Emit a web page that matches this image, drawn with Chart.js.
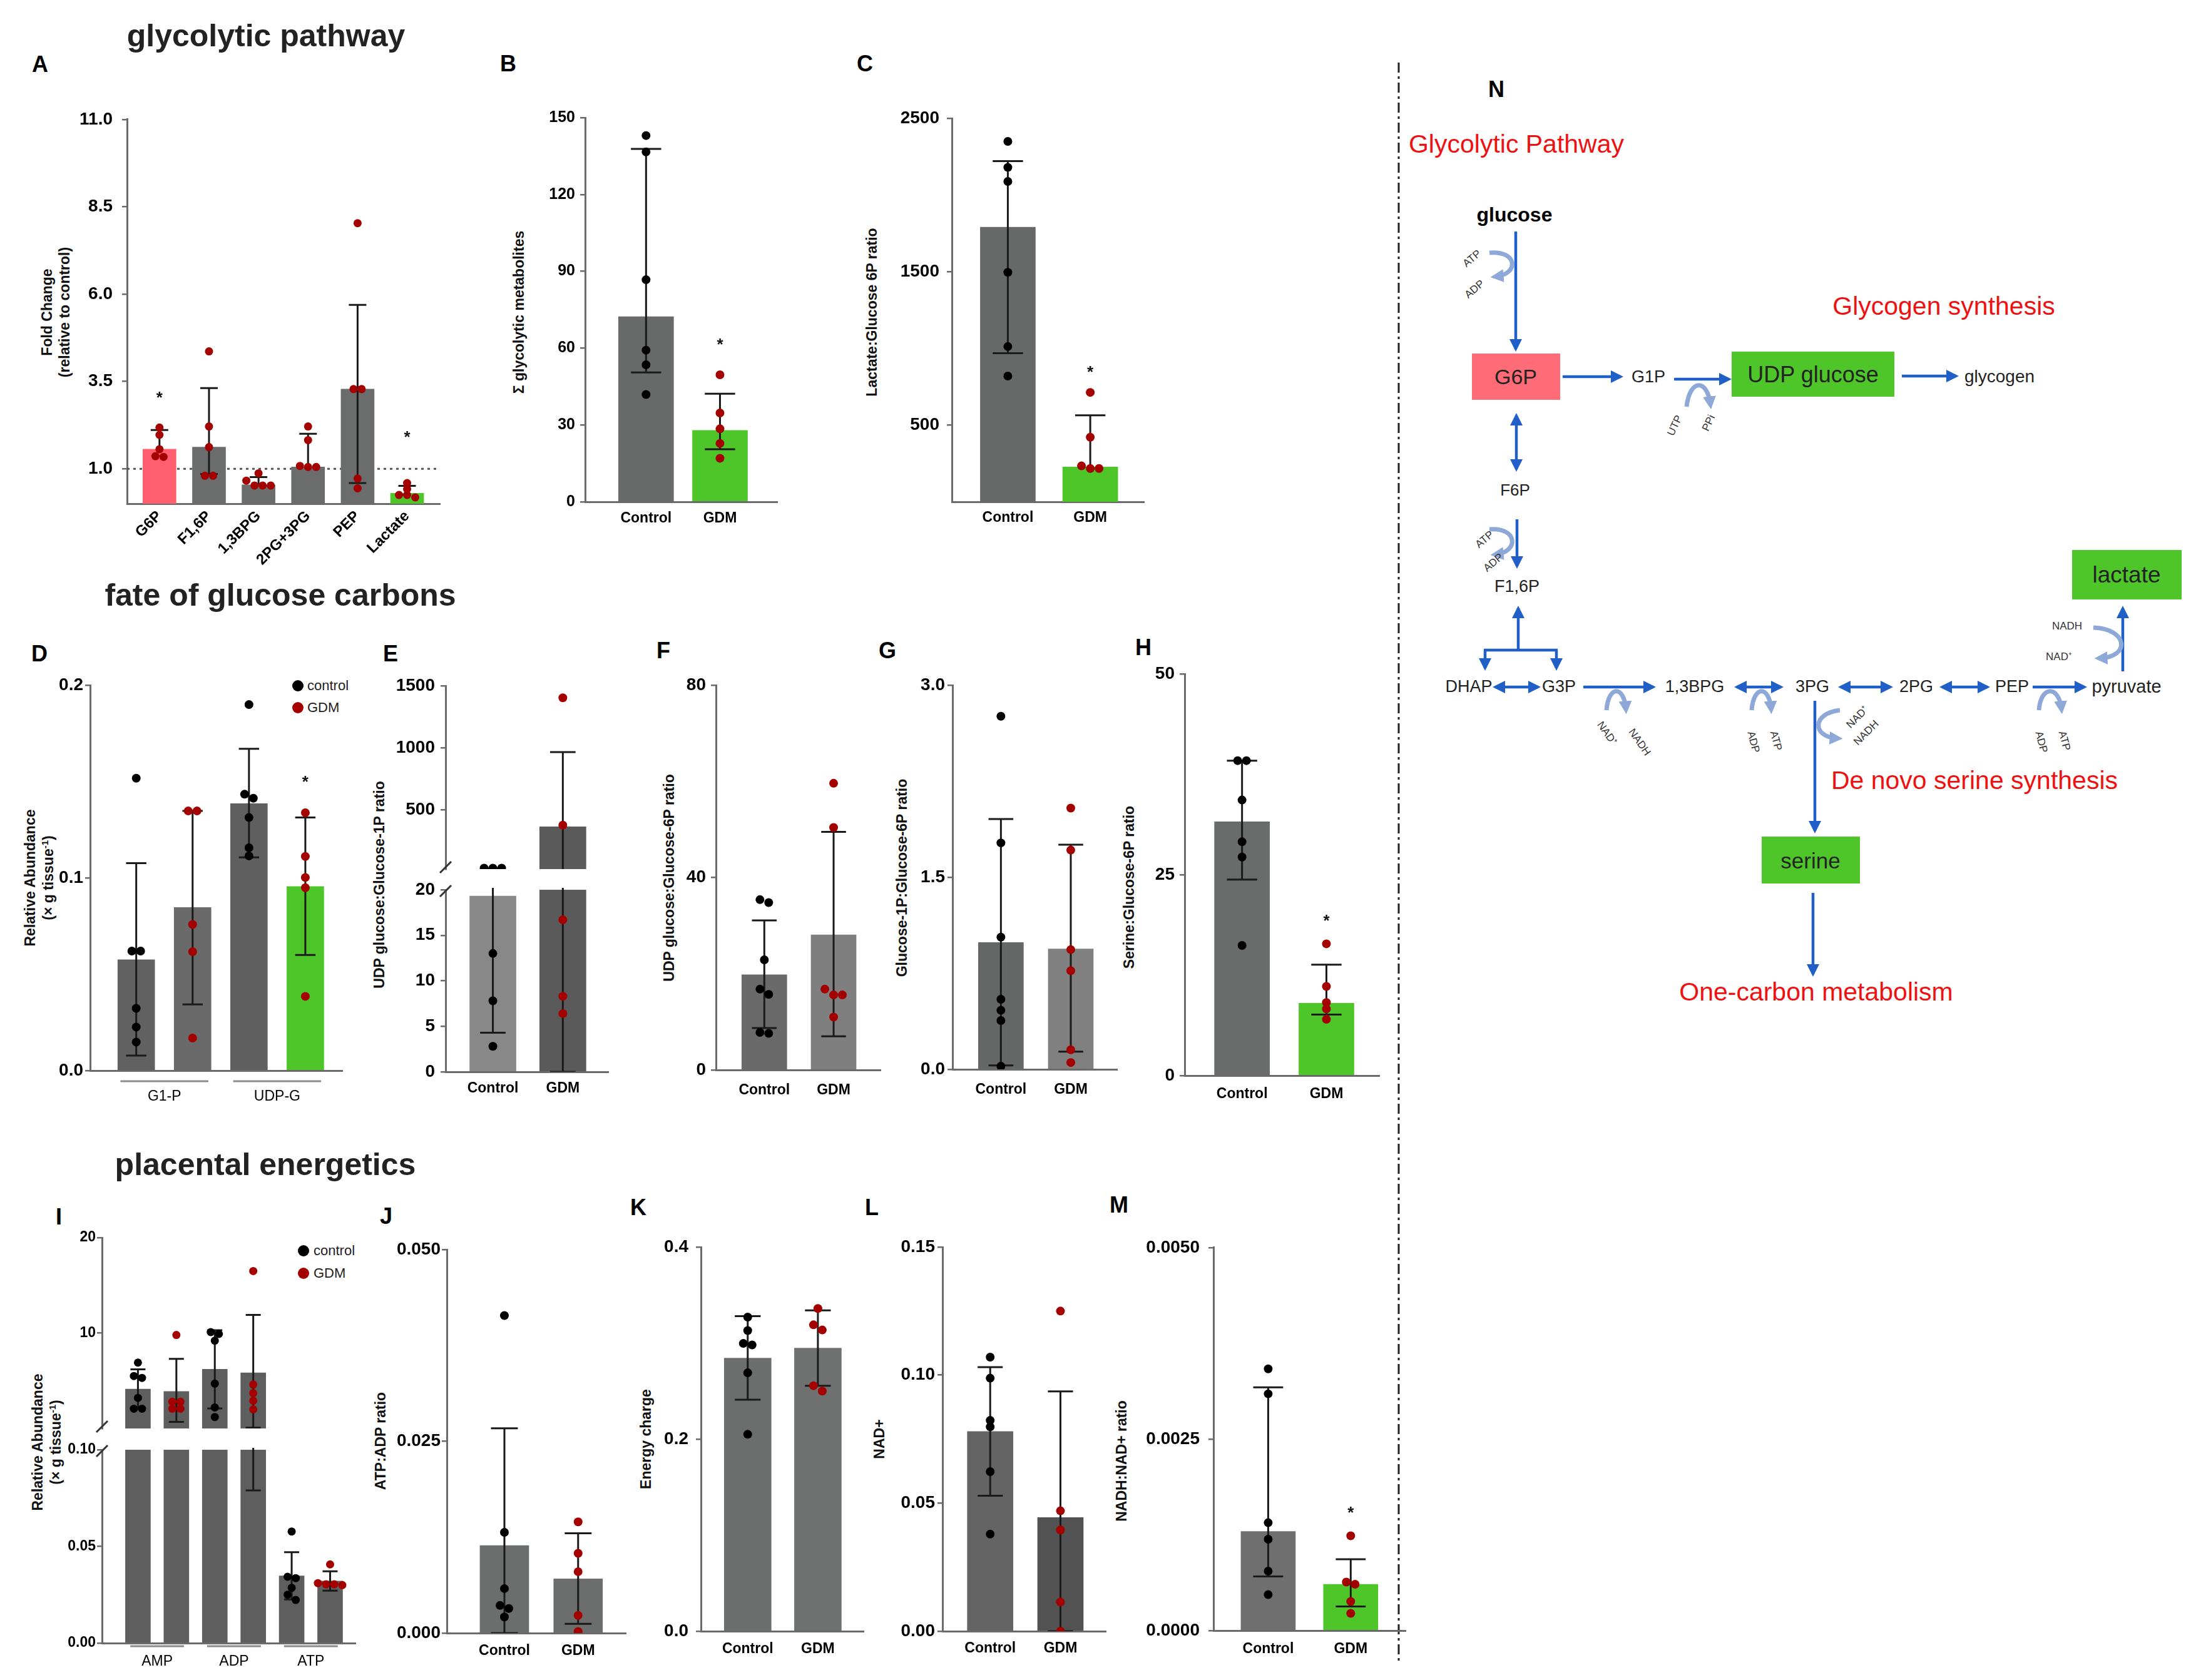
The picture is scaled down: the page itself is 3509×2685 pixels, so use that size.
<!DOCTYPE html>
<html><head><meta charset="utf-8">
<script src="https://cdn.jsdelivr.net/npm/chart.js@4.4.1/dist/chart.umd.min.js"></script>
<style>
html,body{margin:0;padding:0;background:#fff;}
#page{position:relative;width:3509px;height:2685px;overflow:hidden;background:#fff;font-family:'Liberation Sans',Arial,Helvetica,sans-serif;}
canvas{position:absolute;}
.t{position:absolute;white-space:nowrap;color:#000;}
.sec{font-weight:bold;font-size:50px;transform:translate(-50%,-50%);color:#222;}
.let{font-weight:bold;font-size:36px;transform:translate(-50%,-50%);}
.yt{font-weight:bold;font-size:23px;transform:translate(-50%,-50%) rotate(-90deg);text-align:center;line-height:1.2;color:#111;}
.leg{font-size:22px;transform:translate(0,-50%);color:#222;}
.dot{position:absolute;width:18px;height:18px;border-radius:50%;transform:translate(-50%,-50%);}
</style></head><body><div id="page">
<div class="t sec" style="left:425px;top:57px">glycolytic pathway</div>
<div class="t sec" style="left:448px;top:951px">fate of glucose carbons</div>
<div class="t sec" style="left:424px;top:1861px">placental energetics</div>

<div class="t let" style="left:64px;top:103px">A</div>
<div class="t let" style="left:812px;top:102px">B</div>
<div class="t let" style="left:1382px;top:102px">C</div>
<div class="t let" style="left:63px;top:1045px">D</div>
<div class="t let" style="left:624px;top:1045px">E</div>
<div class="t let" style="left:1060px;top:1040px">F</div>
<div class="t let" style="left:1418px;top:1040px">G</div>
<div class="t let" style="left:1827px;top:1035px">H</div>
<div class="t let" style="left:94px;top:1945px">I</div>
<div class="t let" style="left:617px;top:1944px">J</div>
<div class="t let" style="left:1020px;top:1930px">K</div>
<div class="t let" style="left:1393px;top:1930px">L</div>
<div class="t let" style="left:1788px;top:1926px">M</div>
<div class="t let" style="left:2391px;top:143px">N</div>

<div class="t yt" style="left:90px;top:499px">Fold Change<br>(relative to control)</div>
<div class="t yt" style="left:830px;top:499px">Σ glycolytic metabolites</div>
<div class="t yt" style="left:1394px;top:499px">Lactate:Glucose 6P ratio</div>
<div class="t yt" style="left:63px;top:1403px">Relative Abundance<br>(× g tissue<sup style="font-size:15px">-1</sup>)</div>
<div class="t yt" style="left:607px;top:1414px">UDP glucose:Glucose-1P ratio</div>
<div class="t yt" style="left:1070px;top:1403px">UDP glucose:Glucose-6P ratio</div>
<div class="t yt" style="left:1442px;top:1403px">Glucose-1P:Glucose-6P ratio</div>
<div class="t yt" style="left:1805px;top:1418px">Serine:Glucose-6P ratio</div>
<div class="t yt" style="left:75px;top:2305px">Relative Abundance<br>(× g tissue<sup style="font-size:15px">-1</sup>)</div>
<div class="t yt" style="left:609px;top:2303px">ATP:ADP ratio</div>
<div class="t yt" style="left:1033px;top:2300px">Energy charge</div>
<div class="t yt" style="left:1406px;top:2300px">NAD+</div>
<div class="t yt" style="left:1793px;top:2335px">NADH:NAD+ ratio</div>

<div class="dot" style="left:476px;top:1096px;background:#000"></div>
<div class="t leg" style="left:491px;top:1096px">control</div>
<div class="dot" style="left:476px;top:1131px;background:#a50000"></div>
<div class="t leg" style="left:491px;top:1131px">GDM</div>
<div class="dot" style="left:485px;top:1999px;background:#000"></div>
<div class="t leg" style="left:501px;top:1999px">control</div>
<div class="dot" style="left:485px;top:2035px;background:#a50000"></div>
<div class="t leg" style="left:501px;top:2035px">GDM</div>

<svg width="3509" height="2685" style="position:absolute;left:0;top:0" font-family="'Liberation Sans', Arial, sans-serif">
<defs>
<marker id="ah" viewBox="0 0 10 10" refX="8" refY="5" markerWidth="4.5" markerHeight="4.5" orient="auto-start-reverse"><path d="M0,0 L10,5 L0,10 z" fill="#1f5fc7"/></marker>
<marker id="ahl" viewBox="0 0 10 10" refX="6" refY="5" markerWidth="3" markerHeight="3" orient="auto"><path d="M0,0 L10,5 L0,10 z" fill="#8ea9d8"/></marker>
</defs>
<line x1="2235" y1="100" x2="2235" y2="2660" stroke="#222" stroke-width="3" stroke-dasharray="16,6,4,6"/>
<g stroke="#1f5fc7" stroke-width="4.5" fill="none">
<line x1="2422" y1="370" x2="2422" y2="558" marker-end="url(#ah)"/>
<line x1="2497" y1="602" x2="2590" y2="602" marker-end="url(#ah)"/>
<line x1="2675" y1="606" x2="2763" y2="606" marker-end="url(#ah)"/>
<line x1="3039" y1="601" x2="3126" y2="601" marker-end="url(#ah)"/>
<line x1="2423" y1="664" x2="2423" y2="750" marker-start="url(#ah)" marker-end="url(#ah)"/>
<line x1="2424" y1="830" x2="2424" y2="905" marker-end="url(#ah)"/>
<line x1="2426" y1="1039" x2="2426" y2="972" marker-end="url(#ah)"/>
<line x1="2371" y1="1039" x2="2489" y2="1039"/>
<line x1="2373" y1="1039" x2="2373" y2="1068" marker-end="url(#ah)"/>
<line x1="2487" y1="1039" x2="2487" y2="1068" marker-end="url(#ah)"/>
<line x1="2389" y1="1098" x2="2458" y2="1098" marker-start="url(#ah)" marker-end="url(#ah)"/>
<line x1="2530" y1="1098" x2="2642" y2="1098" marker-end="url(#ah)"/>
<line x1="2775" y1="1098" x2="2846" y2="1098" marker-start="url(#ah)" marker-end="url(#ah)"/>
<line x1="2941" y1="1098" x2="3021" y2="1098" marker-start="url(#ah)" marker-end="url(#ah)"/>
<line x1="3103" y1="1098" x2="3176" y2="1098" marker-start="url(#ah)" marker-end="url(#ah)"/>
<line x1="3248" y1="1098" x2="3331" y2="1098" marker-end="url(#ah)"/>
<line x1="3392" y1="1073" x2="3392" y2="972" marker-end="url(#ah)"/>
<line x1="2900" y1="1120" x2="2900" y2="1328" marker-end="url(#ah)"/>
<line x1="2897" y1="1427" x2="2897" y2="1557" marker-end="url(#ah)"/>
</g>
<g stroke="#8ea9d8" stroke-width="7" fill="none" marker-end="url(#ahl)">
<path d="M2380,404 C2425,400 2428,438 2390,442"/>
<path d="M2380,846 C2425,842 2428,882 2390,886"/>
<path d="M2695,650 C2700,605 2728,605 2733,646"/>
<path d="M2567,1135 C2570,1095 2595,1095 2598,1133"/>
<path d="M2799,1135 C2802,1095 2827,1095 2830,1133"/>
<path d="M3258,1135 C3261,1095 3290,1095 3294,1133"/>
<path d="M2940,1135 C2895,1140 2895,1178 2936,1180"/>
<path d="M3345,1003 C3400,1005 3405,1050 3355,1052"/>
</g>
<g fill="#333" font-size="17" text-anchor="middle" dominant-baseline="central">
<text transform="translate(2352,413) rotate(-40)">ATP</text>
<text transform="translate(2356,462) rotate(-40)">ADP</text>
<text transform="translate(2372,862) rotate(-40)">ATP</text>
<text transform="translate(2386,899) rotate(-40)">ADP</text>
<text transform="translate(2676,680) rotate(-65)">UTP</text>
<text transform="translate(2730,676) rotate(-65)">PPi</text>
<text transform="translate(2568,1172) rotate(55)">NAD⁺</text>
<text transform="translate(2620,1186) rotate(55)">NADH</text>
<text transform="translate(2802,1186) rotate(75)">ADP</text>
<text transform="translate(2838,1184) rotate(75)">ATP</text>
<text transform="translate(3262,1186) rotate(75)">ADP</text>
<text transform="translate(3299,1184) rotate(75)">ATP</text>
<text transform="translate(2968,1146) rotate(-45)">NAD⁺</text>
<text transform="translate(2982,1171) rotate(-45)">NADH</text>
<text x="3303" y="1000">NADH</text>
<text x="3290" y="1049">NAD⁺</text>
</g>
<rect x="2352" y="565" width="141" height="74" fill="#ff6b76"/>
<rect x="2767" y="562" width="260" height="72" fill="#4ec62a"/>
<rect x="3311" y="879" width="175" height="79" fill="#4ec62a"/>
<rect x="2815" y="1337" width="157" height="75" fill="#4ec62a"/>
<g fill="#222" text-anchor="middle" dominant-baseline="central">
<text x="2420" y="343" font-size="32" font-weight="bold" fill="#000">glucose</text>
<text x="2422" y="602" font-size="34">G6P</text>
<text x="2634" y="602" font-size="27">G1P</text>
<text x="2897" y="598" font-size="36">UDP glucose</text>
<text x="3195" y="601" font-size="28">glycogen</text>
<text x="2421" y="783" font-size="26">F6P</text>
<text x="2424" y="937" font-size="27">F1,6P</text>
<text x="3398" y="918" font-size="37">lactate</text>
<text x="2347" y="1097" font-size="27">DHAP</text>
<text x="2491" y="1097" font-size="27">G3P</text>
<text x="2708" y="1097" font-size="27">1,3BPG</text>
<text x="2896" y="1097" font-size="27">3PG</text>
<text x="3062" y="1097" font-size="27">2PG</text>
<text x="3215" y="1097" font-size="27">PEP</text>
<text x="3398" y="1097" font-size="29">pyruvate</text>
<text x="2893" y="1375" font-size="35">serine</text>
</g>
<g fill="#ee1111" font-size="41" text-anchor="middle" dominant-baseline="central">
<text x="2423" y="230">Glycolytic Pathway</text>
<text x="3106" y="489">Glycogen synthesis</text>
<text x="3155" y="1247">De novo serine synthesis</text>
<text x="2902" y="1585">One-carbon metabolism</text>
</g>
</svg>
</div>
<script>
// ================= DATA =================
const CG = ['Control', 'GDM'];

const A_cats = ['G6P', 'F1,6P', '1,3BPG', '2PG+3PG', 'PEP', 'Lactate'];
const A_yTicks = [1, 3.5, 6, 8.5, 11];
const A_mean = [1.56, 1.62, 0.54, 1.05, 3.28, 0.30];
const A_hi = [2.11, 3.31, 0.76, 2.00, 5.69, 0.51];
const A_lo = [null, 0.85, null, null, 0.59, null];
const A_dots = [[2.18, 1.97, 1.56, 1.36, 1.34], [4.36, 2.21, 1.62, 0.80, 0.80], [0.87, 0.66, 0.52, 0.52, 0.52],
                [2.21, 1.82, 1.08, 1.05, 1.05], [8.03, 3.28, 3.28, 0.72, 0.44], [0.59, 0.42, 0.25, 0.18, 0.25]];
const A_star = [3.1, null, null, null, null, 1.97];
const A_ref = 1.0;

const B_yTicks = [0, 30, 60, 90, 120, 150];
const B_mean = [72.3, 27.9];
const B_hi = [137.8, 42.2];
const B_lo = [50.5, 20.5];
const B_ctrl = [143, 136.6, 86.7, 59.2, 53.5, 41.9];
const B_gdm = [49.6, 34.7, 28.5, 22.8, 17.0];
const B_star = [null, 62.4];

const C_yTicks = [500, 1500, 2500];
const C_mean = [1790, 227];
const C_hi = [2221, 564];
const C_lo = [969, null];
const C_ctrl = [2349, 2180, 2088, 1496, 1012, 820];
const C_gdm = [713, 421, 234, 217, 217];
const C_star = [null, 863];

const D_groups = ['G1-P', 'UDP-G'];
const D_yTicks = [0, 0.1, 0.2];
const D_mean = [0.0575, 0.0846, 0.1385, 0.0955];
const D_hi = [0.1076, 0.1347, 0.167, 0.1313];
const D_lo = [0.0078, 0.0343, 0.1106, 0.060];
const D_dots = [[0.1517, 0.062, 0.062, 0.0323, 0.0226, 0.0148], [0.1347, 0.1347, 0.0758, 0.0617, 0.0169],
                [0.1899, 0.1434, 0.1413, 0.1313, 0.1156, 0.1114], [0.1338, 0.1111, 0.1002, 0.0949, 0.0385]];
const D_star = [null, null, null, 0.151];

const E_yTicksUp = [500, 1000, 1500];
const E_yTicksLow = [0, 5, 10, 15, 20];
const E_mean = [19.3, 362];
const E_hi = [28, 964];
const E_lo = [4.3, 0];
const E_ctrl = [28, 28, 28, 13.0, 7.8, 2.8];
const E_gdm = [1403, 375, 16.7, 8.3, 6.4];

const F_yTicks = [0, 40, 80];
const F_mean = [19.8, 28.1];
const F_hi = [31.1, 49.5];
const F_lo = [8.7, 7.0];
const F_ctrl = [35.4, 34.8, 22.9, 16.8, 15.7, 7.8, 7.6];
const F_gdm = [59.6, 50.4, 16.8, 15.6, 15.6, 11.0];

const G_yTicks = [0, 1.5, 3.0];
const G_mean = [0.99, 0.94];
const G_hi = [1.955, 1.754];
const G_lo = [0.03, 0.138];
const G_ctrl = [2.757, 1.768, 1.032, 0.547, 0.461, 0.381, 0.024];
const G_gdm = [2.04, 1.712, 0.935, 0.77, 0.153, 0.053];

const H_yTicks = [0, 25, 50];
const H_mean = [31.6, 9.0];
const H_hi = [39.2, 13.8];
const H_lo = [24.4, 7.6];
const H_ctrl = [39.2, 39.2, 34.3, 29.1, 27.2, 16.2];
const H_gdm = [16.4, 11.1, 9.1, 8.3, 7.0];
const H_star = [null, 19.6];

const I_groups = ['AMP', 'ADP', 'ATP'];
const I_yTicksUp = [10, 20];
const I_yTicksLow = [0, 0.05, 0.10];
const I_mean = [4.13, 3.88, 6.2, 5.83, 0.0348, 0.0321];
const I_hi = [6.2, 7.3, 10.3, 11.9, 0.047, 0.0371];
const I_lo = [2.06, 0.69, 2.1, 0.079, 0.0226, 0.0271];
const I_dots = [[6.9, 5.5, 5.3, 3.2, 2.07, 2.07], [9.8, 2.8, 2.8, 2.07, 2.07],
                [10.1, 9.9, 9.2, 4.7, 2.2, 1.2], [16.5, 4.6, 3.7, 2.9, 2.0],
                [0.0577, 0.0343, 0.0336, 0.0286, 0.025, 0.0223], [0.0407, 0.031, 0.0304, 0.0304, 0.030]];

const J_yTicks = [0, 0.025, 0.05];
const J_mean = [0.01142, 0.00706];
const J_hi = [0.0267, 0.013];
const J_lo = [0, 0.0012];
const J_ctrl = [0.0414, 0.01313, 0.0058, 0.0036, 0.0032, 0.0021];
const J_gdm = [0.0145, 0.0104, 0.008, 0.0023, 0.0002];

const K_yTicks = [0, 0.2, 0.4];
const K_mean = [0.2843, 0.2947];
const K_hi = [0.328, 0.334];
const K_lo = [0.241, 0.2556];
const K_ctrl = [0.327, 0.313, 0.2996, 0.298, 0.269, 0.205];
const K_gdm = [0.336, 0.319, 0.3136, 0.2556, 0.25];

const L_yTicks = [0, 0.05, 0.10, 0.15];
const L_mean = [0.078, 0.0444];
const L_hi = [0.1031, 0.0936];
const L_lo = [0.0529, 0];
const L_ctrl = [0.107, 0.0988, 0.0823, 0.0798, 0.0623, 0.0379];
const L_gdm = [0.125, 0.047, 0.0395, 0.0114, 0.0];

const M_yTicks = [0, 0.0025, 0.005];
const M_mean = [0.001294, 0.000604];
const M_hi = [0.003176, 0.000931];
const M_lo = [0.000706, 0.000314];
const M_ctrl = [0.003416, 0.00309, 0.001408, 0.001192, 0.000776, 0.000469];
const M_gdm = [0.001237, 0.000633, 0.000604, 0.00038, 0.000224];
const M_star = [null, 0.00157];

// ================= STYLE / DRAW =================
const page = document.getElementById('page');
const FONT = "'Liberation Sans', Arial, Helvetica, sans-serif";
const AXIS = '#6a6a6a';
const BLK = '#000000', RED = '#a50000', GRN = '#4ec62a', PNK = '#ff5f6e';

function swarm(vals, ymin, ymax, plotH, pxu, r) {
  const order = vals.map((v, i) => i).sort((a, b) => vals[b] - vals[a]);
  const off = vals.map(() => 0);
  const py = v => (v - ymin) / (ymax - ymin) * plotH;
  const d = 2 * r, thr = 1.4 * r;
  let row = [];
  const flush = () => { row.forEach((k, j) => { off[k] = (j - (row.length - 1) / 2) * d / pxu; }); row = []; };
  order.forEach(k => {
    if (row.length && Math.abs(py(vals[row[0]]) - py(vals[k])) >= thr) flush();
    row.push(k);
  });
  flush();
  return off;
}

function makePlugin(p) {
  const upKeep = p.upKeep || (() => true);
  return {
    id: 'eb' + Math.random().toString(36).slice(2),
    beforeDatasetsDraw(chart) {
      if (p.refLine == null) return;
      const { ctx, chartArea: a, scales: { y } } = chart;
      const yy = y.getPixelForValue(p.refLine);
      ctx.save(); ctx.strokeStyle = '#555'; ctx.lineWidth = 3; ctx.setLineDash([4, 6]);
      ctx.beginPath(); ctx.moveTo(a.left, yy); ctx.lineTo(a.right, yy); ctx.stroke(); ctx.restore();
    },
    afterDatasetDraw(chart, args) {
      if (args.index !== 0) return;
      const { ctx, chartArea: a, scales: { x, y } } = chart;
      ctx.save();
      ctx.beginPath(); ctx.rect(a.left, a.top - 3, a.right - a.left, a.bottom - a.top + 3); ctx.clip();
      ctx.strokeStyle = '#1a1a1a'; ctx.lineWidth = 3;
      const cap = (p.cap || p.barW * 0.55) / 2;
      p.means.forEach((m, i) => {
        if (!upKeep(p.hi[i])) return;
        const px = x.getPixelForValue(i);
        const yT = y.getPixelForValue(p.hi[i]);
        const lo = p.lo[i];
        const yB = y.getPixelForValue(lo == null ? m : lo);
        ctx.beginPath();
        ctx.moveTo(px, yT); ctx.lineTo(px, yB);
        ctx.moveTo(px - cap, yT); ctx.lineTo(px + cap, yT);
        if (lo != null) { ctx.moveTo(px - cap, yB); ctx.lineTo(px + cap, yB); }
        ctx.stroke();
      });
      ctx.restore();
    },
    afterDraw(chart) {
      const { ctx, chartArea: a, scales: { x, y } } = chart;
      ctx.save();
      if (p.stars) {
        ctx.fillStyle = '#111'; ctx.font = 'bold 26px ' + FONT; ctx.textAlign = 'center'; ctx.textBaseline = 'middle';
        p.stars.forEach((v, i) => { if (v != null) ctx.fillText('*', x.getPixelForValue(i), y.getPixelForValue(v) + 5); });
      }
      if (p.groups) {
        ctx.strokeStyle = '#8a8a8a'; ctx.lineWidth = 3;
        p.groups.forEach(g => {
          ctx.beginPath();
          ctx.moveTo(x.getPixelForValue(g[0]), a.bottom + p.grpOff);
          ctx.lineTo(x.getPixelForValue(g[1]), a.bottom + p.grpOff);
          ctx.stroke();
        });
      }
      if (p.brk) {
        const yy = p.brk === 'top' ? a.top + 2 : a.bottom - 3;
        ctx.strokeStyle = '#333'; ctx.lineWidth = 3;
        ctx.beginPath(); ctx.moveTo(a.left - 9, yy + 9); ctx.lineTo(a.left + 9, yy - 9); ctx.stroke();
      }
      ctx.restore();
    }
  };
}

function panel(p) {
  const yw = 130, pt = 30, pr = 30, xh = p.xh || 60;
  const { L, T, R, B } = p.area;
  const left = Math.round(L - yw), top = Math.round(T - pt);
  const W = Math.round(R - left + pr), H = Math.round(B - top + xh);
  const cv = document.createElement('canvas');
  cv.width = W; cv.height = H;
  cv.style.left = left + 'px'; cv.style.top = top + 'px';
  page.appendChild(cv);
  const r = p.r || 7;
  const plotH = B - T, pxu = (R - L) / (p.xmax - p.xmin);
  const keep = p.keep || (() => true);
  const upKeep = p.upKeep || (() => true);
  const gap = p.ygap || 18, tl = 8;
  const datasets = [{
    type: 'bar', data: p.means.map((v, i) => ({ x: i, y: upKeep(v) ? v : null })),
    backgroundColor: p.colors, barThickness: p.barW, borderWidth: 0, order: 2
  }];
  p.dots.forEach((vals, i) => {
    const kv = vals.filter(keep);
    if (!kv.length) return;
    const off = swarm(kv, p.ymin, p.ymax, plotH, pxu, r);
    datasets.push({
      type: 'scatter', data: kv.map((v, k) => ({ x: i + off[k], y: v })),
      pointRadius: r, pointHoverRadius: r, backgroundColor: p.dotColors[i], pointBackgroundColor: p.dotColors[i],
      borderWidth: 0, pointBorderWidth: 0, showLine: false, order: 1
    });
  });
  const xpos = p.xtickPos || p.xlabels.map((_, i) => i);
  new Chart(cv, {
    type: 'bar',
    data: { datasets },
    options: {
      responsive: false, animation: false, devicePixelRatio: 1,
      layout: { padding: { top: pt, right: pr, left: 0, bottom: p.hideX ? xh : 0 } },
      plugins: { legend: { display: false }, tooltip: { enabled: false } },
      scales: {
        x: {
          type: 'linear', display: !p.hideX, min: p.xmin, max: p.xmax, offset: false, bounds: 'data',
          afterBuildTicks: s => { s.ticks = xpos.map(v => ({ value: v })); },
          afterFit: s => { s.height = p.hideX ? 0 : xh; },
          grid: { display: false, drawTicks: false },
          border: { display: true, color: AXIS, width: 3, dash: p.xdash || [] },
          ticks: {
            autoSkip: false, maxRotation: p.rot || 0, minRotation: p.rot || 0, padding: p.xpad || 13,
            color: '#000', font: { family: FONT, size: p.xfs || 23, weight: p.xweight || 'bold' },
            callback: (v, i) => p.xlabels[i]
          }
        },
        y: {
          type: 'linear', min: p.ymin, max: p.ymax, bounds: 'data',
          afterBuildTicks: s => { s.ticks = p.yticks.map(v => ({ value: v })); },
          afterFit: s => { s.width = yw; },
          grid: { display: true, drawOnChartArea: false, drawTicks: true, tickLength: tl, color: AXIS, tickColor: AXIS, tickWidth: 2.5, lineWidth: 2.5 },
          border: { display: true, color: AXIS, width: 3 },
          ticks: { padding: Math.max(1, gap - tl), color: '#000', font: { family: FONT, size: p.yfs || 28, weight: 'bold' }, callback: v => v.toFixed(p.ydec) }
        }
      }
    },
    plugins: [makePlugin(p)]
  });
}

const two = (c, g) => [c, g];
const CR = [BLK, RED];

// A
panel({ area: { L: 202.6, T: 189.4, R: 703, B: 805 }, xmin: -0.655, xmax: 5.663, ymin: 0, ymax: 11,
  yticks: A_yTicks, ydec: 1, ygap: 23, xlabels: A_cats, rot: 45, xh: 130, xfs: 24, xpad: 6, barW: 53, cap: 28,
  colors: [PNK, '#6b6d6c', '#6b6d6c', '#6b6d6c', '#6b6d6c', GRN], means: A_mean, hi: A_hi, lo: A_lo,
  dots: A_dots, dotColors: A_cats.map(() => RED), stars: A_star, refLine: A_ref, r: 6.5 });
// B
panel({ area: { L: 935.4, T: 188, R: 1242, B: 801.6 }, xmin: -0.824, xmax: 1.775, ymin: 0, ymax: 150,
  yticks: B_yTicks, ydec: 0, yfs: 25, ygap: 16, xlabels: CG, barW: 88, colors: ['#686a69', GRN],
  means: B_mean, hi: B_hi, lo: B_lo, dots: two(B_ctrl, B_gdm), dotColors: CR, stars: B_star });
// C
panel({ area: { L: 1521.3, T: 189, R: 1828, B: 802.4 }, xmin: -0.679, xmax: 1.652, ymin: 0, ymax: 2500,
  yticks: C_yTicks, ydec: 0, ygap: 20, xlabels: CG, xpad: 12, barW: 88, colors: ['#676968', GRN],
  means: C_mean, hi: C_hi, lo: C_lo, dots: two(C_ctrl, C_gdm), dotColors: CR, stars: C_star });
// D
panel({ area: { L: 143.8, T: 1094.8, R: 547, B: 1710.6 }, xmin: -0.818, xmax: 3.656, ymin: 0, ymax: 0.2,
  yticks: D_yTicks, ydec: 1, ygap: 11, xlabels: D_groups, xtickPos: [0.5, 2.5], xweight: 'normal', xpad: 28, xh: 75,
  barW: 59, colors: ['#616161', '#6a6a6a', '#5f5f5f', GRN], means: D_mean, hi: D_hi, lo: D_lo,
  dots: D_dots, dotColors: [BLK, RED, BLK, RED], stars: D_star, groups: [[-0.28, 1.28], [1.72, 3.28]], grpOff: 17 });
// E upper
panel({ area: { L: 712, T: 1096.3, R: 971.6, B: 1388.6 }, xmin: -0.676, xmax: 1.65, ymin: 20, ymax: 1500,
  yticks: E_yTicksUp, ydec: 0, ygap: 17, xlabels: CG, hideX: true, barW: 74, colors: ['#888888', '#5a5a5a'],
  means: E_mean, hi: E_hi, lo: E_lo, dots: two(E_ctrl, E_gdm), dotColors: CR, keep: v => v > 20, upKeep: v => v > 20, brk: 'bottom' });
// E lower
panel({ area: { L: 712, T: 1421.8, R: 971.6, B: 1713.2 }, xmin: -0.676, xmax: 1.65, ymin: 0, ymax: 20,
  yticks: E_yTicksLow, ydec: 0, ygap: 17, xlabels: CG, xdash: [4, 4], barW: 74, colors: ['#888888', '#5a5a5a'],
  means: E_mean, hi: E_hi, lo: E_lo, dots: two(E_ctrl, E_gdm), dotColors: CR, keep: v => v <= 20, brk: 'top' });
// F
panel({ area: { L: 1143.5, T: 1094.5, R: 1406.6, B: 1710.3 }, xmin: -0.698, xmax: 1.677, ymin: 0, ymax: 80,
  yticks: F_yTicks, ydec: 0, ygap: 16, xlabels: CG, xpad: 19, barW: 72, colors: ['#6a6a6a', '#7f7f7f'],
  means: F_mean, hi: F_hi, lo: F_lo, dots: two(F_ctrl, F_gdm), dotColors: CR });
// G
panel({ area: { L: 1522.2, T: 1094.5, R: 1785, B: 1708.8 }, xmin: -0.693, xmax: 1.663, ymin: 0, ymax: 3,
  yticks: G_yTicks, ydec: 1, ygap: 12, xlabels: CG, xpad: 19, barW: 72, colors: ['#646766', '#808080'],
  means: G_mean, hi: G_hi, lo: G_lo, dots: two(G_ctrl, G_gdm), dotColors: CR });
// H
panel({ area: { L: 1892.9, T: 1077, R: 2203.8, B: 1718.7 }, xmin: -0.68, xmax: 1.627, ymin: 0, ymax: 50,
  yticks: H_yTicks, ydec: 0, ygap: 16, xlabels: CG, xpad: 16, barW: 88, colors: ['#6a6c6b', GRN],
  means: H_mean, hi: H_hi, lo: H_lo, dots: two(H_ctrl, H_gdm), dotColors: CR, stars: H_star });
// I upper
const I_cols = ['#5e5e5e', '#5e5e5e', '#5e5e5e', '#5e5e5e', '#5e5e5e', '#5e5e5e'];
const I_dc = [BLK, RED, BLK, RED, BLK, RED];
panel({ area: { L: 162.6, T: 1978.3, R: 567.6, B: 2282.9 }, xmin: -0.935, xmax: 5.66, ymin: 0, ymax: 20,
  yticks: I_yTicksUp, ydec: 0, yfs: 23, ygap: 10, xlabels: I_groups, xtickPos: [0.5, 2.5, 4.5], hideX: true, barW: 40, cap: 24,
  colors: I_cols, means: I_mean, hi: I_hi, lo: I_lo, dots: I_dots, dotColors: I_dc, keep: v => v > 0.1, upKeep: v => v > 0.1, r: 6.5, brk: 'bottom' });
// I lower
panel({ area: { L: 162.6, T: 2316.5, R: 567.6, B: 2625.5 }, xmin: -0.935, xmax: 5.66, ymin: 0, ymax: 0.1,
  yticks: I_yTicksLow, ydec: 2, yfs: 23, ygap: 10, xlabels: I_groups, xtickPos: [0.5, 2.5, 4.5], xweight: 'normal', xpad: 16, barW: 40, cap: 24,
  colors: I_cols, means: I_mean, hi: I_hi, lo: I_lo, dots: I_dots, dotColors: I_dc, keep: v => v <= 0.1, r: 6.5,
  groups: [[-0.2, 1.2], [1.8, 3.2], [3.8, 5.2]], grpOff: 5, brk: 'top' });
// J
panel({ area: { L: 714.3, T: 1996.5, R: 1000, B: 2610 }, xmin: -0.781, xmax: 1.647, ymin: 0, ymax: 0.05,
  yticks: J_yTicks, ydec: 3, ygap: 10, xlabels: CG, xpad: 15, barW: 78, colors: ['#6c6e6d', '#6c6e6d'],
  means: J_mean, hi: J_hi, lo: J_lo, dots: two(J_ctrl, J_gdm), dotColors: CR });
// K
panel({ area: { L: 1120, T: 1992.6, R: 1379.5, B: 2606.8 }, xmin: -0.667, xmax: 1.652, ymin: 0, ymax: 0.4,
  yticks: K_yTicks, ydec: 1, ygap: 20, xlabels: CG, xpad: 15, barW: 75, colors: ['#6c6e6d', '#6f7170'],
  means: K_mean, hi: K_hi, lo: K_lo, dots: two(K_ctrl, K_gdm), dotColors: CR });
// L
panel({ area: { L: 1505.5, T: 1992.6, R: 1766.7, B: 2607.3 }, xmin: -0.679, xmax: 1.646, ymin: 0, ymax: 0.15,
  yticks: L_yTicks, ydec: 2, ygap: 12, xlabels: CG, xpad: 14, xdash: [4, 4], barW: 73, colors: ['#646464', '#525252'],
  means: L_mean, hi: L_hi, lo: L_lo, dots: two(L_ctrl, L_gdm), dotColors: CR });
// M
panel({ area: { L: 1938.5, T: 1992.6, R: 2245.5, B: 2605.8 }, xmin: -0.663, xmax: 1.665, ymin: 0, ymax: 0.005,
  yticks: M_yTicks, ydec: 4, ygap: 22, xlabels: CG, xpad: 16, barW: 87, colors: ['#6f6f6f', GRN],
  means: M_mean, hi: M_hi, lo: M_lo, dots: two(M_ctrl, M_gdm), dotColors: CR, stars: M_star });
</script>
</body></html>
